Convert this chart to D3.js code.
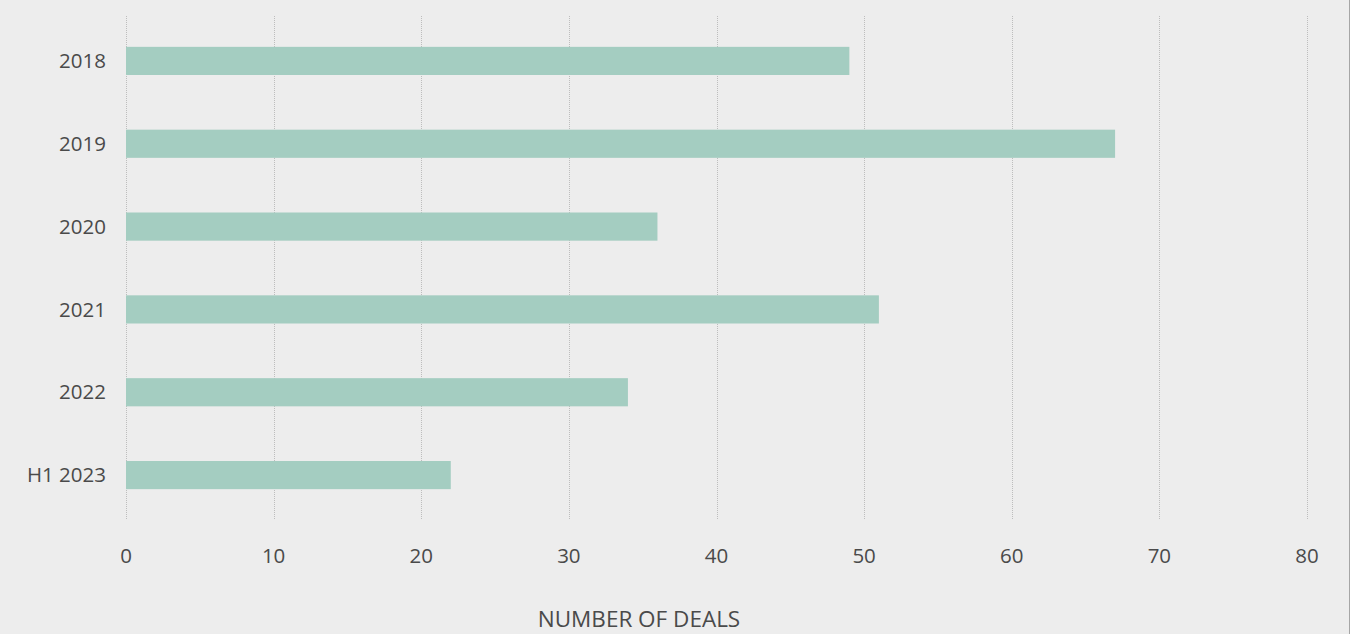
<!DOCTYPE html>
<html>
<head>
<meta charset="utf-8">
<script src="https://cdn.jsdelivr.net/npm/d3@7"></script>
<style>
  html, body { margin: 0; padding: 0; background: #ededed; }
  svg { display: block; }
</style>
</head>
<body>
<svg id="chart" width="1350" height="634"></svg>
<script>
// Deal counts per period
const categories = ["2018", "2019", "2020", "2021", "2022", "H1 2023"];
const deals = [49, 67, 36, 51, 34, 22];
const xTicks = [0, 10, 20, 30, 40, 50, 60, 70, 80];
const axisTitle = "NUMBER OF DEALS";

const svg = d3.select("#chart");
const W = 1350, H = 634;
const plotLeft = 126, plotRight = 1307, plotTop = 16, plotBottom = 520;

svg.append("rect").attr("width", W).attr("height", H).attr("fill", "#ededed");
svg.append("line").attr("x1", W - 0.5).attr("x2", W - 0.5).attr("y1", 0).attr("y2", H)
  .attr("stroke", "#a6a6a6").attr("stroke-width", 1);

const x = d3.scaleLinear().domain([0, 80]).range([plotLeft, plotRight]);
const y = d3.scaleBand().domain(categories).range([19.5, 516.5]).paddingInner(0.66).paddingOuter(0.33);

const font = "'Open Sans', 'Noto Sans', sans-serif";
const textColor = "#4a4a4a";

// dotted vertical gridlines
svg.append("g").selectAll("line").data(xTicks).join("line")
  .attr("x1", d => Math.round(x(d)) + 0.5).attr("x2", d => Math.round(x(d)) + 0.5)
  .attr("y1", plotTop).attr("y2", plotBottom)
  .attr("stroke", "#bdbdbd").attr("stroke-width", 1).attr("stroke-dasharray", "1,1");

// bars
svg.append("g").selectAll("rect").data(categories).join("rect")
  .attr("x", x(0))
  .attr("y", d => y(d))
  .attr("width", (d, i) => x(deals[i]) - x(0))
  .attr("height", y.bandwidth())
  .attr("fill", "#a4cdc1");

// category labels
svg.append("g").selectAll("text").data(categories).join("text")
  .attr("x", 106).attr("y", d => y(d) + y.bandwidth() / 2)
  .attr("dy", "0.35em").attr("text-anchor", "end")
  .attr("font-family", font).attr("font-size", 20.5).attr("fill", textColor)
  .text(d => d);

// x tick labels
svg.append("g").selectAll("text").data(xTicks).join("text")
  .attr("x", d => x(d)).attr("y", 556).attr("dy", "0.35em")
  .attr("text-anchor", "middle")
  .attr("font-family", font).attr("font-size", 20.5).attr("fill", textColor)
  .text(d => d);

// axis title
svg.append("text")
  .attr("x", 639).attr("y", 619).attr("dy", "0.35em")
  .attr("text-anchor", "middle")
  .attr("font-family", font).attr("font-size", 22.5).attr("fill", textColor)
  .text(axisTitle);
</script>
</body>
</html>
